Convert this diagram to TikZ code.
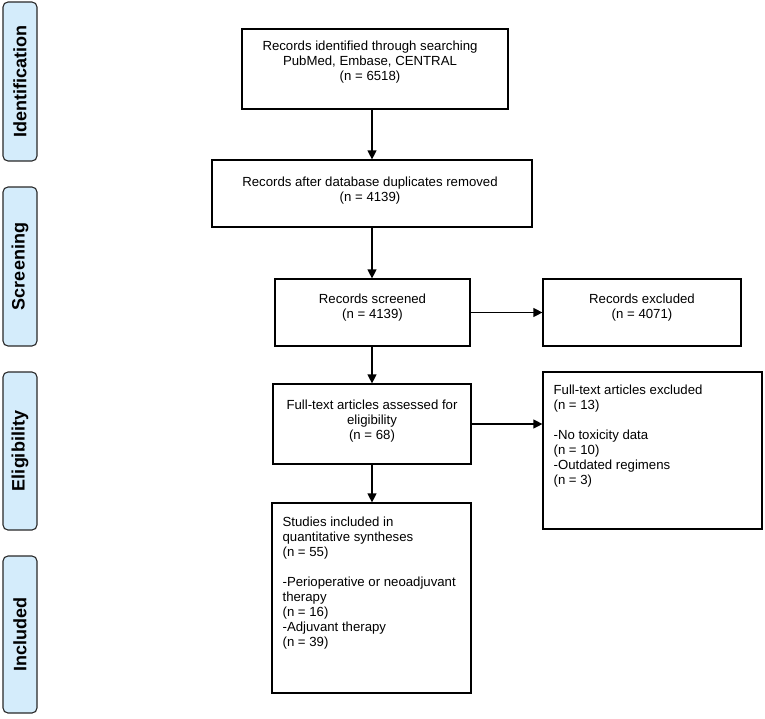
\documentclass[tikz,border=0pt]{standalone}
\usepackage{fontspec}
\setmainfont{Liberation Sans}
\usetikzlibrary{arrows.meta}
\definecolor{tabfill}{RGB}{212,236,251}
\definecolor{tabline}{RGB}{40,40,40}
\tikzset{
  box/.style={draw=black, line width=1.2pt, inner sep=0pt, fill=white},
  tab/.style={draw=tabline, line width=1.1pt, fill=tabfill, rounded corners=5pt, inner sep=0pt, minimum width=34pt},
  tabtext/.style={rotate=90, font=\fontsize{18}{20}\selectfont\bfseries},
  txt/.style={inner sep=0pt, font=\fontsize{13.2}{15}\selectfont},
  arr/.style={line width=1.2pt, -{Triangle[length=9pt,width=9pt]}}
}
\begin{document}
\begin{tikzpicture}[x=1pt,y=-1pt]
\useasboundingbox (0,0) rectangle (765,718);
% side tabs
\node[tab, minimum height=159pt] (t1) at (20,81.5) {};
\node[tabtext] (t1l) at (t1.center) {Identification};
\node[tab, minimum height=159pt] (t2) at (20,266.5) {};
\node[tabtext] (t2l) at (t2.center) {Screening};
\node[tab, minimum height=158pt] (t3) at (20,451) {};
\node[tabtext] (t3l) at (t3.center) {Eligibility};
\node[tab, minimum height=157pt] (t4) at (20,634.5) {};
\node[tabtext] (t4l) at (t4.center) {Included};
% boxes
\node[box, minimum width=266pt, minimum height=80pt] (b1) at (375,69) {};
\node[box, minimum width=320pt, minimum height=67pt] (b2) at (372,193.5) {};
\node[box, minimum width=195pt, minimum height=67pt] (b3) at (372.5,312.5) {};
\node[box, minimum width=198pt, minimum height=67pt] (e1) at (642,312.5) {};
\node[box, minimum width=198pt, minimum height=80pt] (b4) at (372,424) {};
\node[box, minimum width=219pt, minimum height=157pt] (e2) at (652.5,450.5) {};
\node[box, minimum width=199pt, minimum height=190pt] (b5) at (371.5,598) {};
% texts
\node[txt, anchor=north, align=center] (b1t) at ([xshift=-5pt,yshift=-12pt]b1.north) {Records identified through searching\\PubMed, Embase, CENTRAL\\(n = 6518)};
\node[txt, anchor=north, align=center] (b2t) at ([xshift=-2pt,yshift=-17pt]b2.north) {Records after database duplicates removed\\(n = 4139)};
\node[txt, anchor=north, align=center] (b3t) at ([yshift=-15pt]b3.north) {Records screened\\(n = 4139)};
\node[txt, anchor=north, align=center] (e1t) at ([yshift=-15pt]e1.north) {Records excluded\\(n = 4071)};
\node[txt, anchor=north, align=center] (b4t) at ([yshift=-16pt]b4.north) {Full-text articles assessed for\\eligibility\\(n = 68)};
\node[txt, anchor=north west, align=left] (e2t) at ([xshift=11pt,yshift=-13pt]e2.north west) {Full-text articles excluded\\(n = 13)\\[15pt]-No toxicity data\\(n = 10)\\-Outdated regimens\\(n = 3)};
\node[txt, anchor=north west, align=left] (b5t) at ([xshift=11pt,yshift=-14pt]b5.north west) {Studies included in\\quantitative syntheses\\(n = 55)\\[15pt]-Perioperative or neoadjuvant\\therapy\\(n = 16)\\-Adjuvant therapy\\(n = 39)};
% arrows
\draw[arr] (b1.south -| b2.north) -- (b2.north);
\draw[arr] (b2.south) -- (b2.south |- b3.north);
\draw[arr] (b3.south -| b2.south) -- (b4.north);
\draw[arr] (b4.south) -- (b4.south |- b5.north);
\draw[arr] (b3.east) -- (e1.west);
\draw[arr] (b4.east) -- (b4.east -| e2.west);
\end{tikzpicture}
\end{document}
